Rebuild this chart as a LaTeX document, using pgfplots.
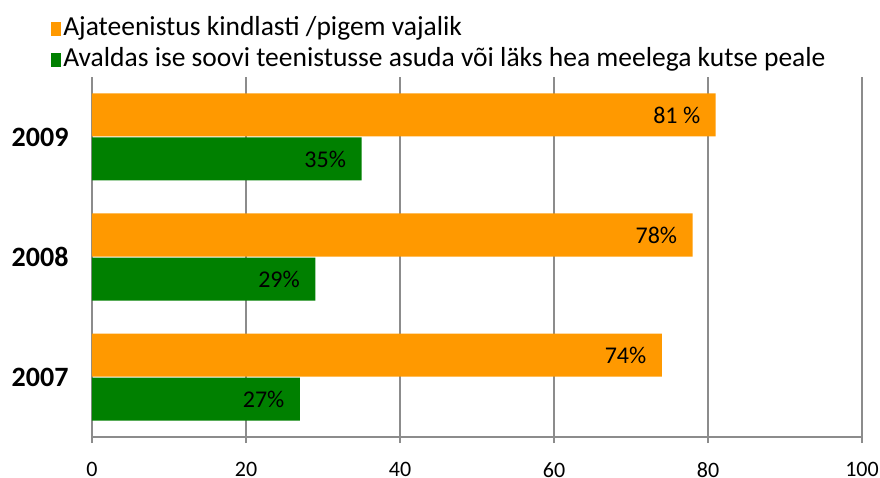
\documentclass[border=0pt]{standalone}
\usepackage{fontspec}
\setmainfont{Carlito}
\usepackage{pgfplots}
\pgfplotsset{compat=1.18}
\definecolor{orng}{HTML}{FF9900}
\definecolor{grn}{HTML}{008000}
\definecolor{axgray}{HTML}{8C8C8C}
\begin{document}
\begin{tikzpicture}[x=1pt,y=1pt]
\useasboundingbox (0,0) rectangle (880,477);
\begin{axis}[
 at={(92pt,40pt)}, anchor=south west,
 width=770pt, height=360pt, scale only axis,
 xbar, xmin=0, xmax=100, ymin=-0.5, ymax=2.5,
 bar width=43pt,
 axis x line*=bottom, axis y line*=left,
 axis line style={axgray, line width=2.5pt, -},
 xtick={0,20,...,100},
 ytick={0,1,2}, yticklabels={2007,2008,2009},
 minor ytick={-0.5,0.5,1.5,2.5},
 tick align=outside,
 major tick length=6pt,
 minor tick length=12pt,
 every tick/.style={axgray, line width=2pt},
 ytick style={draw=none},
 minor y tick style={axgray, line width=2pt},
 xmajorgrids,
 major grid style={axgray, line width=1.6pt},
 /pgf/number format/assume math mode=true,
 xticklabel style={font=\fontsize{22}{26}\selectfont, yshift=-16pt},
 yticklabel style={font=\fontsize{28}{32}\selectfont\bfseries, xshift=-14pt},
 point meta=explicit symbolic,
 nodes near coords,
 every node near coord/.append style={anchor=east, xshift=-12pt, font=\fontsize{24}{28}\selectfont, text=black},
 legend style={at={(-0.057,1.178)}, anchor=north west, draw=none, fill=none,
   font=\fontsize{27.5}{32}\selectfont, row sep=3pt,
   nodes={inner ysep=0pt, inner xsep=2pt, text height=20pt, text depth=8pt}},
 legend cell align=left,
 legend image code/.code={\fill[#1] (0pt,-7pt) rectangle (10pt,7pt);},
 clip=false,
]
\addplot[fill=orng, draw=none, bar shift=22pt] coordinates {(74,0) [74\%] (78,1) [78\%] (81,2) [81 \%]};
\addplot[fill=grn, draw=none, bar shift=-22pt] coordinates {(27,0) [27\%] (29,1) [29\%] (35,2) [35\%]};
\legend{Ajateenistus kindlasti /pigem vajalik, Avaldas ise soovi teenistusse asuda või läks hea meelega kutse peale}
\end{axis}
\end{tikzpicture}
\end{document}
